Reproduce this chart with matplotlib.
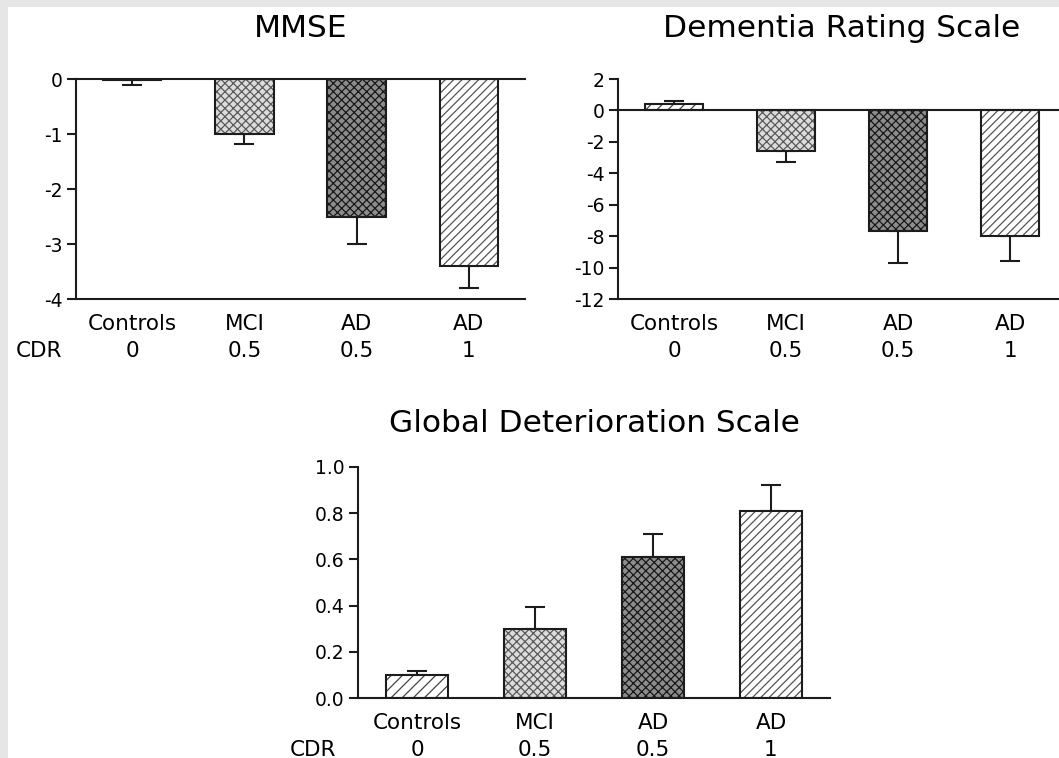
import matplotlib
matplotlib.use("Agg")
import matplotlib.pyplot as plt
from matplotlib.patches import Rectangle

groups = ["Controls", "MCI", "AD", "AD"]
cdr = ["0", "0.5", "0.5", "1"]

mmse_mean = [-0.02, -1.0, -2.5, -3.4]
mmse_err = [0.08, 0.18, 0.5, 0.4]

drs_mean = [0.4, -2.6, -7.65, -8.0]
drs_err = [0.2, 0.7, 2.05, 1.6]

gds_mean = [0.10, 0.30, 0.61, 0.81]
gds_err = [0.015, 0.095, 0.10, 0.11]

# fill style per group: hatch, face, hatch colour
hatches = ["///", "xxxx", "xxxx", "////"]
faces = ["white", "#dcdcdc", "#8c8c8c", "white"]
hatch_cols = ["#444444", "#5a5a5a", "#181818", "#555555"]

plt.rcParams["font.family"] = "DejaVu Sans"
plt.rcParams["hatch.linewidth"] = 0.9
INK = "#1c1c1c"

fig = plt.figure(figsize=(10.59, 7.58), dpi=100, facecolor="#e6e6e6")
fig.patches.append(Rectangle((8 / 1059, 0), 1, 751 / 758, transform=fig.transFigure,
                             facecolor="white", edgecolor="none", zorder=-10))


def draw_panel(ax, mean, err, title, ylim, yticks, fmt, tpad):
    x = range(len(mean))
    for i in x:
        ax.bar(i, mean[i], width=0.52, color=faces[i], hatch=hatches[i],
               edgecolor=hatch_cols[i], linewidth=0, zorder=2)
        ax.bar(i, mean[i], width=0.52, fill=False, edgecolor=INK, linewidth=1.5, zorder=3)
    lo = [e if m < 0 else 0 for m, e in zip(mean, err)]
    hi = [e if m >= 0 else 0 for m, e in zip(mean, err)]
    ax.errorbar(list(x), mean, yerr=[lo, hi], fmt="none", ecolor=INK,
                elinewidth=1.5, capsize=7, capthick=1.5, zorder=1)
    ax.set_xlim(-0.5, 3.5)
    ax.set_ylim(*ylim)
    ax.set_yticks(yticks)
    ax.set_yticklabels([fmt.format(t) for t in yticks], fontsize=13.5)
    ax.set_xticks(list(x))
    ax.set_xticklabels([g + "\n" + c for g, c in zip(groups, cdr)], fontsize=15.5,
                       linespacing=1.4)
    ax.tick_params(axis="x", length=0, pad=11)
    ax.tick_params(axis="y", length=6.5, width=1.5, pad=3, color=INK)
    ax.spines["right"].set_visible(False)
    for s in ["left", "bottom", "top"]:
        ax.spines[s].set_linewidth(1.5)
        ax.spines[s].set_color(INK)
    ax.set_title(title, fontsize=22.5, pad=tpad)
    ax.set_facecolor("none")


ax1 = fig.add_axes([76 / 1059, 1 - 299 / 758, 449 / 1059, 220 / 758])
draw_panel(ax1, mmse_mean, mmse_err, "MMSE", (-4, 0), [0, -1, -2, -3, -4], "{:g}", 30)

ax2 = fig.add_axes([618 / 1059, 1 - 299 / 758, 448 / 1059, 220 / 758])
draw_panel(ax2, drs_mean, drs_err, "Dementia Rating Scale", (-12, 2),
           list(range(2, -13, -2)), "{:g}", 30)
ax2.spines["top"].set_visible(False)
ax2.axhline(0, color=INK, linewidth=1.5, zorder=4)

ax3 = fig.add_axes([358 / 1059, 1 - 698 / 758, 472 / 1059, 231 / 758])
draw_panel(ax3, gds_mean, gds_err, "Global Deterioration Scale", (0, 1),
           [0.0, 0.2, 0.4, 0.6, 0.8, 1.0], "{:.1f}", 25)
ax3.spines["top"].set_visible(False)

fig.text(39 / 1059, 1 - 351 / 758, "CDR", fontsize=15.5, ha="center", va="center")
fig.text(313 / 1059, 1 - 750 / 758, "CDR", fontsize=15.5, ha="center", va="center")

fig.savefig("out.png", dpi=100, facecolor=fig.get_facecolor())
